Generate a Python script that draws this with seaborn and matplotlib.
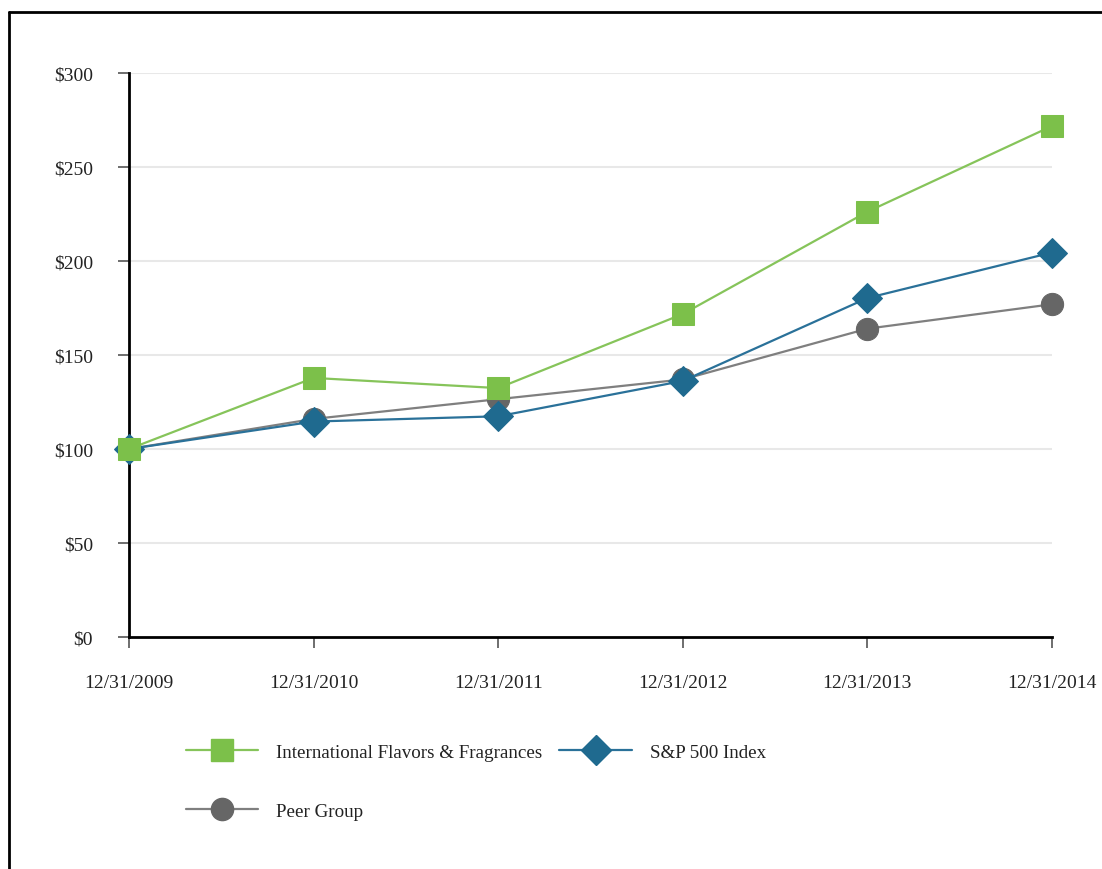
import matplotlib
matplotlib.use("Agg")
import matplotlib.pyplot as plt
import seaborn as sns
import pandas as pd
from matplotlib.lines import Line2D

dates = ["12/31/2009", "12/31/2010", "12/31/2011", "12/31/2012", "12/31/2013", "12/31/2014"]
iff = [100, 137.8, 132.4, 171.8, 226.2, 271.8]
sp500 = [100, 114.6, 117.4, 136.2, 180.3, 204.5]
peer = [100, 116.0, 126.5, 137.0, 164.0, 177.0]
yticks = [0, 50, 100, 150, 200, 250, 300]

names = ["Peer Group", "S&P 500 Index", "International Flavors & Fragrances"]
series = [peer, sp500, iff]
line_colors = ["#7f7f7f", "#2a7199", "#86c45a"]
marker_colors = ["#666666", "#1f6a8f", "#7cc04a"]
markers = ["o", "D", "s"]
msizes = [16, 15.5, 16.5]

sns.set_style("white")
plt.rcParams["font.family"] = ["Liberation Serif", "DejaVu Serif"]

fig = plt.figure(figsize=(11.02, 8.70), dpi=100)
ax = fig.add_axes([129 / 1102, 1 - 638 / 870, (1052 - 129) / 1102, (638 - 74) / 870])

xpos = list(range(len(dates)))
handles = {}
for name, vals, lc, mc, mk, ms in zip(names, series, line_colors, marker_colors, markers, msizes):
    df = pd.DataFrame({"x": xpos, "y": vals})
    sns.lineplot(data=df, x="x", y="y", ax=ax, color=lc, linewidth=1.6,
                 marker=mk, markersize=ms, markerfacecolor=mc, markeredgecolor=mc,
                 clip_on=False, zorder=3)
    handles[name] = Line2D([], [], color=lc, linewidth=1.6, marker=mk, markersize=ms,
                           markerfacecolor=mc, markeredgecolor=mc)

ax.set_xlim(0, 5)
ax.set_ylim(0, 300)
ax.set_xticks(xpos)
ax.set_xticklabels(dates)
ax.set_yticks(yticks)
ax.set_yticklabels([f"${v}" for v in yticks])
ax.set_xlabel("")
ax.set_ylabel("")

for v in yticks[1:]:
    ax.axhline(v, color="#e8e8e8", linewidth=1.5, zorder=1)

for s in ["top", "right"]:
    ax.spines[s].set_visible(False)
for s in ["left", "bottom"]:
    ax.spines[s].set_color("black")
    ax.spines[s].set_linewidth(2)
    ax.spines[s].set_zorder(2)

ax.tick_params(axis="both", which="major", direction="out", length=8, width=1.2,
               color="#555555", labelsize=14, labelcolor="#222222")
ax.tick_params(axis="y", pad=18)
ax.tick_params(axis="x", pad=19)
ax.yaxis.set_ticks_position("left")
ax.xaxis.set_ticks_position("bottom")

# column-major order -> row 1: IFF, S&P ; row 2: Peer Group
order = ["International Flavors & Fragrances", "Peer Group", "S&P 500 Index"]
fig.legend([handles[n] for n in order], order, loc="upper left",
           bbox_to_anchor=(178 / 1102, 1 - 737 / 870), ncol=2, frameon=False,
           fontsize=13.7, handlelength=3.8, handletextpad=0.95, columnspacing=0.9,
           labelspacing=2.2, labelcolor="#222222", borderaxespad=0)

# outer frame (left and top edges)
fig.add_artist(Line2D([9 / 1102, 9 / 1102], [0, 1 - 13 / 870], color="black", linewidth=2,
                      transform=fig.transFigure))
fig.add_artist(Line2D([9 / 1102, 1], [1 - 13 / 870, 1 - 13 / 870], color="black", linewidth=2,
                      transform=fig.transFigure))

fig.savefig("out.png", dpi=100)
